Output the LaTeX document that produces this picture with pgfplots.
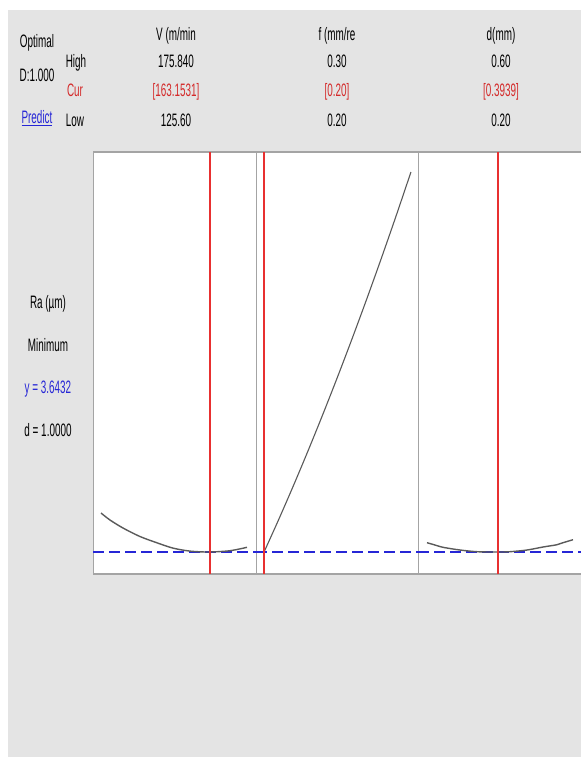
\documentclass[border=0pt]{standalone}
\usepackage{fontspec}
\setmainfont{Liberation Sans}[FakeStretch=0.55]
\usepackage{pgfplots}
\pgfplotsset{compat=1.18}
\definecolor{bg}{HTML}{E4E4E4}
\definecolor{framegray}{HTML}{A4A4A4}
\definecolor{curvegray}{HTML}{5A5A5A}
\definecolor{optred}{HTML}{E83030}
\definecolor{txtred}{HTML}{D42A2A}
\definecolor{optblue}{HTML}{2626D6}
\pgfplotsset{
  panel/.style={anchor=south west, width=163pt, height=422pt, scale only axis,
    ymin=3.4232, ymax=7.6432, hide axis, clip=false},
}
\newcommand{\fs}{\fontsize{18}{20}\selectfont}
\begin{document}
\begin{tikzpicture}[x=1pt,y=1pt]
\fill[white] (0,0) rectangle (581,757);
\fill[bg] (8,0) rectangle (581,747);
\fill[white] (93,183) rectangle (581,605);

% ---- Panel 1: V
\begin{axis}[panel, at={(93pt,183pt)}, xmin=122.85, xmax=178.94]
\draw[framegray, line width=0.8pt] (rel axis cs:0,0) -- (rel axis cs:0,1);
\draw[framegray, line width=2pt] (rel axis cs:0,0) -- (rel axis cs:1,0);
\draw[framegray, line width=2pt] (rel axis cs:0,1) -- (rel axis cs:1,1);
\addplot[color=optblue, line width=1.8pt, dash pattern=on 11pt off 5pt, no marks] coordinates {(122.85,3.6432) (178.94,3.6432)};
\addplot[color=curvegray, line width=1.4pt, smooth, no marks] coordinates {(125.6,4.033) (128.7,3.963) (133.17,3.883) (139.02,3.798) (144.87,3.735) (150.38,3.682) (156.23,3.652) (162.76,3.643) (169.99,3.656) (175.84,3.690)};
\addplot[draw=optred, line width=1.5pt, no marks] coordinates {(163.1531,3.4232) (163.1531,7.6432)};
\end{axis}

% ---- Panel 2: f
\begin{axis}[panel, at={(256pt,183pt)}, xmin=0.19452, xmax=0.30548]
\draw[framegray, line width=0.8pt] (rel axis cs:0,0) -- (rel axis cs:0,1);
\draw[framegray, line width=2pt] (rel axis cs:0,0) -- (rel axis cs:1,0);
\draw[framegray, line width=2pt] (rel axis cs:0,1) -- (rel axis cs:1,1);
\addplot[color=optblue, line width=1.8pt, dash pattern=on 11pt off 5pt, no marks] coordinates {(0.19452,3.6432) (0.30548,3.6432)};
\addplot[color=curvegray, line width=1.1pt, smooth, no marks] coordinates {(0.20,3.643) (0.21,3.969) (0.22,4.307) (0.23,4.657) (0.24,5.019) (0.25,5.393) (0.26,5.779) (0.27,6.177) (0.28,6.587) (0.29,7.009) (0.30,7.443)};
\addplot[draw=optred, line width=1.5pt, no marks] coordinates {(0.20,3.4232) (0.20,7.6432)};
\end{axis}

% ---- Panel 3: d
\begin{axis}[panel, at={(418pt,183pt)}, xmin=0.17534, xmax=0.62192]
\draw[framegray, line width=0.8pt] (rel axis cs:0,0) -- (rel axis cs:0,1);
\draw[framegray, line width=2pt] (rel axis cs:0,0) -- (rel axis cs:1,0);
\draw[framegray, line width=2pt] (rel axis cs:0,1) -- (rel axis cs:1,1);
\addplot[color=optblue, line width=1.8pt, dash pattern=on 11pt off 5pt, no marks] coordinates {(0.17534,3.6432) (0.62192,3.6432)};
\addplot[color=curvegray, line width=1.4pt, smooth, no marks] coordinates {(0.2000,3.736) (0.2219,3.713) (0.2438,3.690) (0.2904,3.663) (0.3370,3.646) (0.3918,3.643) (0.4274,3.646) (0.4740,3.663) (0.5178,3.693) (0.5562,3.716) (0.5726,3.736) (0.6000,3.766)};
\addplot[draw=optred, line width=1.5pt, no marks] coordinates {(0.3939,3.4232) (0.3939,7.6432)};
\end{axis}

% ---- Header text
\begin{scope}[every node/.style={anchor=base, inner sep=0pt, font=\fs}]
\node at (37,709) {Optimal};
\node at (37,675) {D:1.000};
\node[text=optblue] at (37,633) {\underline{Predict}};
\node at (76,689) {High};
\node[text=txtred] at (75,660) {Cur};
\node at (75,630) {Low};

\node at (176,716) {V (m/min};
\node at (176,689) {175.840};
\node[text=txtred] at (176,660) {[163.1531]};
\node at (176,630) {125.60};

\node at (337,716) {f (mm/re};
\node at (337,689) {0.30};
\node[text=txtred] at (337,660) {[0.20]};
\node at (337,630) {0.20};

\node at (501,716) {d(mm)};
\node at (501,689) {0.60};
\node[text=txtred] at (501,660) {[0.3939]};
\node at (501,630) {0.20};

\node at (48,448) {Ra (µm)};
\node at (48,405) {Minimum};
\node[text=optblue] at (48,363) {y = 3.6432};
\node at (48,320) {d = 1.0000};
\end{scope}
\end{tikzpicture}
\end{document}
